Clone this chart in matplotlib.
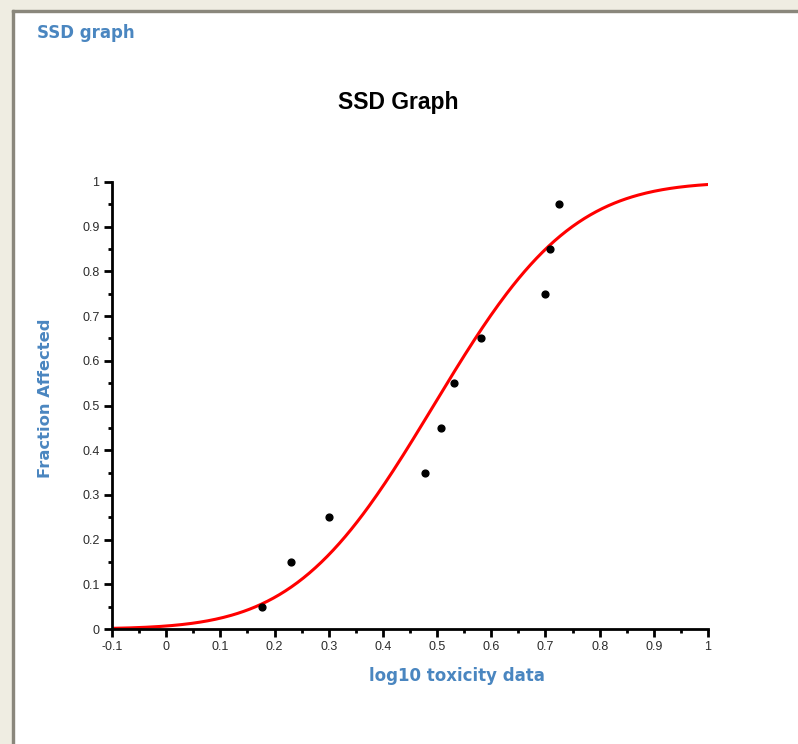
import math
import matplotlib
matplotlib.use("Agg")
import matplotlib.pyplot as plt
import numpy as np
from matplotlib.patches import Rectangle
from matplotlib.ticker import MultipleLocator

# toxicity data points (log10) and fraction affected
log_tox = [0.177, 0.230, 0.300, 0.478, 0.507, 0.531, 0.581, 0.699, 0.708, 0.725]
frac_affected = [0.05, 0.15, 0.25, 0.35, 0.45, 0.55, 0.65, 0.75, 0.85, 0.95]

x_ticks = [-0.1, 0, 0.1, 0.2, 0.3, 0.4, 0.5, 0.6, 0.7, 0.8, 0.9, 1]
x_labels = ["-0.1", "0", "0.1", "0.2", "0.3", "0.4", "0.5", "0.6", "0.7", "0.8", "0.9", "1"]
y_ticks = [0, 0.1, 0.2, 0.3, 0.4, 0.5, 0.6, 0.7, 0.8, 0.9, 1]
y_labels = ["0", "0.1", "0.2", "0.3", "0.4", "0.5", "0.6", "0.7", "0.8", "0.9", "1"]

blue = "#4a86c0"

# log-normal SSD fit: normal cdf on log10 data
mu = np.mean(log_tox)
sd = np.std(log_tox, ddof=1)
xs = np.linspace(-0.1, 1.0, 300)
fit = np.array([0.5 * (1 + math.erf((v - mu) / (sd * math.sqrt(2)))) for v in xs])

fig = plt.figure(figsize=(7.98, 7.44), dpi=100)

# window frame bits (beige border + grey edge)
fig.patches.append(Rectangle((0, 0), 12 / 798, 1, transform=fig.transFigure,
                             color="#efede2", zorder=0))
fig.patches.append(Rectangle((0, 1 - 9 / 744), 1, 9 / 744, transform=fig.transFigure,
                             color="#efede2", zorder=0))
fig.patches.append(Rectangle((12 / 798, 0), 2 / 798, 1 - 10 / 744, transform=fig.transFigure,
                             color="#8a877c", zorder=1))
fig.patches.append(Rectangle((12 / 798, 1 - 12 / 744), 1, 2 / 744, transform=fig.transFigure,
                             color="#8a877c", zorder=1))

ax = fig.add_axes([112 / 798, 1 - 629 / 744, 596 / 798, 447 / 744])
ax.plot(xs, fit, color="red", lw=2.2, zorder=2)
ax.scatter(log_tox, frac_affected, s=24, color="black", zorder=3)

ax.set_xlim(-0.1, 1.0)
ax.set_ylim(0, 1.0)
ax.set_xticks(x_ticks)
ax.set_xticklabels(x_labels)
ax.set_yticks(y_ticks)
ax.set_yticklabels(y_labels)
ax.xaxis.set_minor_locator(MultipleLocator(0.05))
ax.yaxis.set_minor_locator(MultipleLocator(0.05))

for s in ["top", "right"]:
    ax.spines[s].set_visible(False)
for s in ["left", "bottom"]:
    ax.spines[s].set_linewidth(2)
ax.tick_params(which="major", length=6, width=2, colors="black",
               labelcolor="#2b2b2b", pad=3)
ax.tick_params(which="minor", length=3, width=2)
for lab in ax.get_xticklabels() + ax.get_yticklabels():
    lab.set_family("Liberation Sans")
    lab.set_fontsize(9)

fig.text(398 / 798, 1 - 103 / 744, "SSD Graph", ha="center", va="center",
         fontsize=16.5, fontweight="bold", family="Liberation Sans", color="black")
fig.text(37 / 798, 1 - 33 / 744, "SSD graph", ha="left", va="center",
         fontsize=12, fontweight="bold", color=blue)
fig.text(457 / 798, 1 - 676 / 744, "log10 toxicity data", ha="center", va="center",
         fontsize=12, fontweight="bold", color=blue)
fig.text(46 / 798, 1 - 398 / 744, "Fraction Affected", ha="center", va="center",
         rotation=90, fontsize=11.8, fontweight="bold", color=blue)

fig.savefig("out.png", dpi=100)
